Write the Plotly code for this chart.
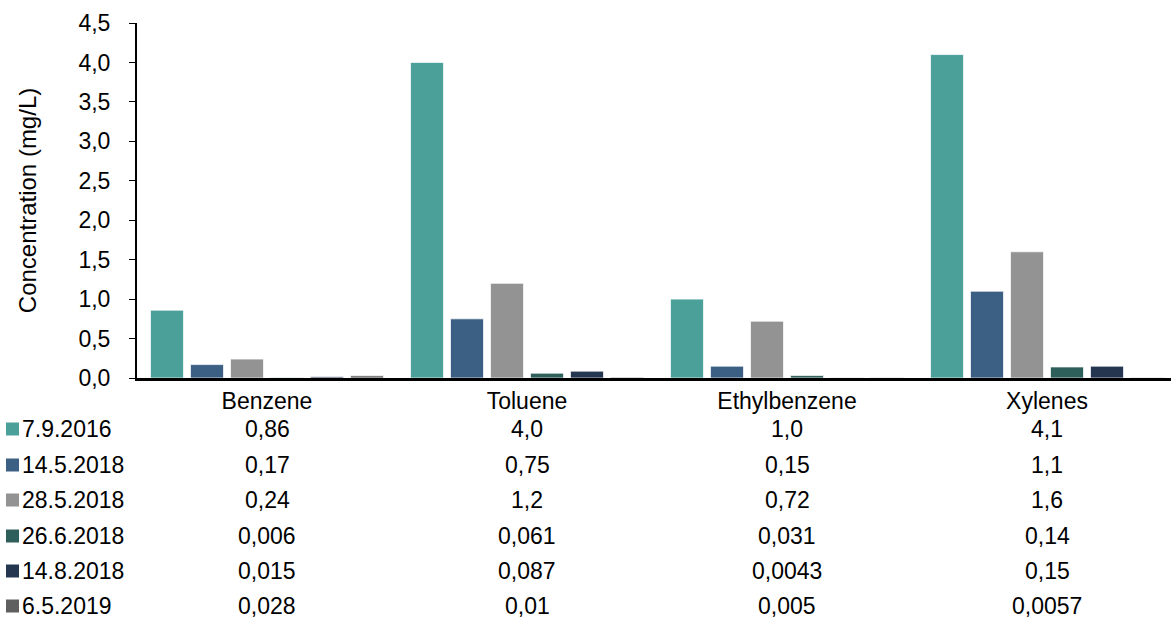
import plotly.graph_objects as go

categories = ["Benzene", "Toluene", "Ethylbenzene", "Xylenes"]
series_names = ["7.9.2016", "14.5.2018", "28.5.2018", "26.6.2018", "14.8.2018", "6.5.2019"]
v_2016_09_07 = [0.86, 4.0, 1.0, 4.1]
v_2018_05_14 = [0.17, 0.75, 0.15, 1.1]
v_2018_05_28 = [0.24, 1.2, 0.72, 1.6]
v_2018_06_26 = [0.006, 0.061, 0.031, 0.14]
v_2018_08_14 = [0.015, 0.087, 0.0043, 0.15]
v_2019_05_06 = [0.028, 0.01, 0.005, 0.0057]
series_values = [v_2016_09_07, v_2018_05_14, v_2018_05_28, v_2018_06_26, v_2018_08_14, v_2019_05_06]
colors = ["#4BA19A", "#3C5F84", "#939393", "#2E5F5A", "#243650", "#5F5F5F"]
y_ticks = [0, 0.5, 1.0, 1.5, 2.0, 2.5, 3.0, 3.5, 4.0, 4.5]

W, H = 1171, 621
L, R, T, B = 137, 0, 23, 243
plot_h = H - T - B
FONT = "Liberation Sans, Arial, sans-serif"
FS = 23

fig = go.Figure()
for name, vals, col in zip(series_names, series_values, colors):
    fig.add_trace(go.Bar(
        x=categories, y=vals, name=name,
        marker=dict(color=col, line=dict(color="rgba(255,255,255,0.7)", width=1)),
        showlegend=False,
    ))

# data table rows
row_py = [429, 465, 500, 536, 571, 606]
annotations = []
shapes = []
for name, vals, col, py in zip(series_names, series_values, colors, row_py):
    yp = (H - B - py) / plot_h
    for cat, v in zip(categories, vals):
        annotations.append(dict(
            x=cat, xref="x", y=yp, yref="paper", text=str(v).replace(".", ","),
            showarrow=False, xanchor="center", yanchor="middle",
            font=dict(family=FONT, size=FS, color="#000000"),
        ))
    annotations.append(dict(
        x=(20 - L) / (W - L - R), xref="paper", y=yp, yref="paper", text=name,
        showarrow=False, xanchor="left", yanchor="middle",
        font=dict(family=FONT, size=FS, color="#000000"),
    ))
    sq = 13
    shapes.append(dict(
        type="rect", xref="paper", yref="paper",
        x0=(6 - L) / (W - L - R), x1=(6 + sq - L) / (W - L - R),
        y0=(H - B - py - sq / 2) / plot_h, y1=(H - B - py + sq / 2) / plot_h,
        fillcolor=col, line=dict(width=0),
    ))

fig.update_layout(
    width=W, height=H,
    margin=dict(l=L, r=R, t=T, b=B, autoexpand=False),
    paper_bgcolor="white", plot_bgcolor="white",
    barmode="group", bargap=0.077, bargroupgap=0.175,
    separators=",.",
    font=dict(family=FONT, size=FS, color="#000000"),
    annotations=annotations, shapes=shapes,
    showlegend=False,
)
fig.update_xaxes(
    type="category", range=[-0.5, -0.5 + (W - L - R) / 260],
    showline=True, linecolor="#000000", linewidth=3,
    ticks="", showgrid=False, tickfont=dict(size=FS, family=FONT),
    fixedrange=True,
)
fig.update_yaxes(
    range=[0, 4.5], tickvals=y_ticks, tickformat=".1f",
    showline=True, linecolor="#000000", linewidth=2,
    ticks="outside", ticklen=6, tickwidth=1.2, tickcolor="#000000",
    ticklabelstandoff=14,
    showgrid=False, zeroline=False,
    title=dict(text="Concentration (mg/L)", font=dict(size=24, family=FONT), standoff=35),
    tickfont=dict(size=FS, family=FONT),
)

fig.write_html(
    "out.html",
    config={"displayModeBar": False},
    post_script="document.body.style.margin='0';document.body.style.overflow='hidden';",
)
